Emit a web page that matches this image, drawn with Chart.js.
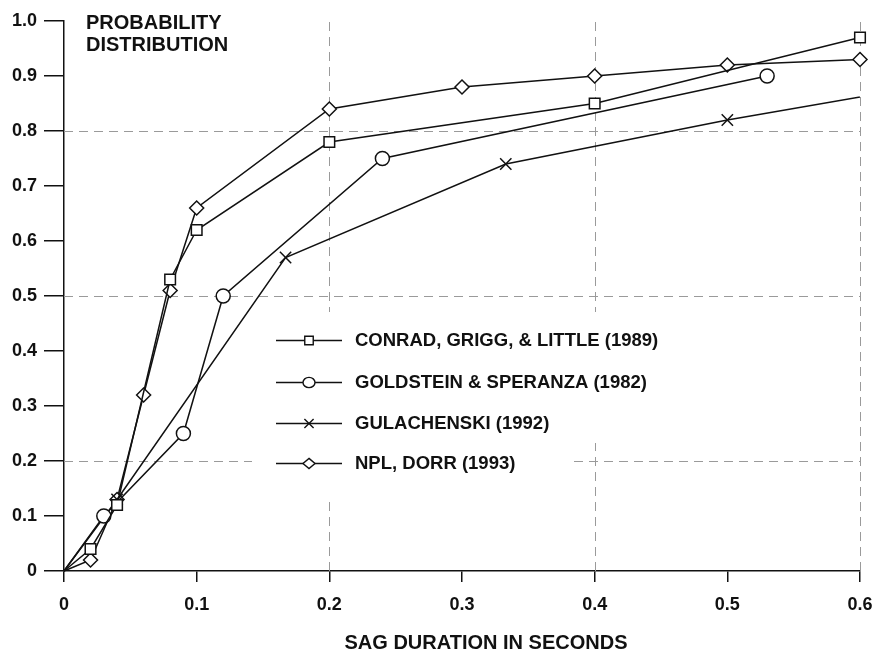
<!DOCTYPE html>
<html>
<head>
<meta charset="utf-8">
<title>Probability distribution of sag duration</title>
<script src="https://cdn.jsdelivr.net/npm/chart.js@4/dist/chart.umd.min.js"></script>
<style>
  html, body { margin: 0; padding: 0; background: #fff; }
  canvas { display: block; }
</style>
</head>
<body>
<canvas id="sag" width="874" height="656"></canvas>
<script>
// Cumulative probability of voltage sag duration, four survey sources
const seriesNames = [
  'CONRAD, GRIGG, & LITTLE (1989)',
  'GOLDSTEIN & SPERANZA (1982)',
  'GULACHENSKI (1992)',
  'NPL, DORR (1993)'
];

const conradX = [0, 0.02, 0.04, 0.08, 0.10, 0.20, 0.40, 0.60];
const conradY = [0, 0.04, 0.12, 0.53, 0.62, 0.78, 0.85, 0.97];

const goldsteinX = [0, 0.03, 0.09, 0.12, 0.24, 0.53];
const goldsteinY = [0, 0.10, 0.25, 0.50, 0.75, 0.90];

const gulachenskiX = [0, 0.04, 0.167, 0.333, 0.50, 0.667];
const gulachenskiY = [0, 0.13, 0.57, 0.74, 0.82, 0.89];

const nplX = [0, 0.02, 0.04, 0.06, 0.08, 0.10, 0.20, 0.30, 0.40, 0.50, 0.60];
const nplY = [0, 0.02, 0.13, 0.32, 0.51, 0.66, 0.84, 0.88, 0.90, 0.92, 0.93];

const xTickValues = [0, 0.1, 0.2, 0.3, 0.4, 0.5, 0.6];
const yTickValues = [0, 0.1, 0.2, 0.3, 0.4, 0.5, 0.6, 0.7, 0.8, 0.9, 1.0];
const xGuideValues = [0.2, 0.4, 0.6];
const yGuideValues = [0.2, 0.5, 0.8];

const xTitle = 'SAG DURATION IN SECONDS';
const yTitleLines = ['PROBABILITY', 'DISTRIBUTION'];

const INK = '#111';
const FAMILY = '"Liberation Sans", Arial, sans-serif';

function toPoints(xs, ys) {
  return xs.map((x, i) => ({ x: x, y: ys[i] }));
}

function fmt(v) {
  return Math.abs(v) < 1e-9 ? '0' : v.toFixed(1);
}

const markerStyles = ['rect', 'circle', 'crossRot', 'rectRot'];
const markerRadius = [7.5, 7, 8, 7];

function makeSet(i, xs, ys, extra) {
  return Object.assign({
    label: seriesNames[i],
    data: toPoints(xs, ys),
    borderColor: INK,
    borderWidth: 1.5,
    pointStyle: markerStyles[i],
    pointRadius: ctx => (ctx.dataIndex === 0 ? 0 : markerRadius[i]),
    pointBorderColor: INK,
    pointBackgroundColor: '#fff',
    pointBorderWidth: 1.5,
    pointHoverRadius: markerRadius[i],
    tension: 0,
    clip: 12
  }, extra || {});
}

const datasets = [
  makeSet(0, conradX, conradY),
  makeSet(1, goldsteinX, goldsteinY),
  makeSet(2, gulachenskiX, gulachenskiY, {
    // the last segment runs past the right edge of the axes
    pointRadius: ctx => (ctx.dataIndex === 0 || ctx.dataIndex === gulachenskiX.length - 1 ? 0 : markerRadius[2]),
    clip: { left: 12, top: 12, right: 0, bottom: 12 }
  }),
  makeSet(3, nplX, nplY)
];

function drawMarker(ctx, style, x, y, r) {
  ctx.save();
  ctx.strokeStyle = INK;
  ctx.fillStyle = '#fff';
  ctx.lineWidth = 1.4;
  ctx.beginPath();
  if (style === 'rect') {
    const s = r * Math.SQRT1_2;
    ctx.rect(x - s, y - s, 2 * s, 2 * s);
    ctx.fill(); ctx.stroke();
  } else if (style === 'circle') {
    ctx.ellipse(x, y, r, r * 0.85, 0, 0, Math.PI * 2);
    ctx.fill(); ctx.stroke();
  } else if (style === 'rectRot') {
    ctx.moveTo(x, y - r * 0.85);
    ctx.lineTo(x + r, y);
    ctx.lineTo(x, y + r * 0.85);
    ctx.lineTo(x - r, y);
    ctx.closePath();
    ctx.fill(); ctx.stroke();
  } else {
    const s = r * Math.SQRT1_2;
    ctx.moveTo(x - s, y - s); ctx.lineTo(x + s, y + s);
    ctx.moveTo(x - s, y + s); ctx.lineTo(x + s, y - s);
    ctx.stroke();
  }
  ctx.restore();
}

// Dashed guide lines, the key (on a white patch), the corner caption and the x title
const decorations = {
  id: 'decorations',
  beforeDatasetsDraw(chart) {
    const { ctx, chartArea: a, scales } = chart;
    ctx.save();
    ctx.strokeStyle = '#9a9a9a';
    ctx.lineWidth = 1;
    ctx.setLineDash([9, 6]);
    yGuideValues.forEach(v => {
      const y = Math.round(scales.y.getPixelForValue(v)) + 0.5;
      ctx.beginPath(); ctx.moveTo(a.left, y); ctx.lineTo(a.right, y); ctx.stroke();
    });
    xGuideValues.forEach(v => {
      const x = Math.round(scales.x.getPixelForValue(v)) + 0.5;
      ctx.beginPath(); ctx.moveTo(x, a.bottom); ctx.lineTo(x, a.top); ctx.stroke();
    });
    ctx.setLineDash([]);

    // key rows
    ctx.font = 'bold 18.5px ' + FAMILY;
    const rowY = [340, 382, 423, 463];
    const bands = [312, 361, 402, 443, 498];
    const textX = 355;
    ctx.fillStyle = '#fff';
    seriesNames.forEach((name, i) => {
      const w = ctx.measureText(name).width;
      ctx.fillRect(252, bands[i], textX + w + 58 - 252, bands[i + 1] - bands[i]);
    });
    ctx.textBaseline = 'middle';
    ctx.textAlign = 'left';
    seriesNames.forEach((name, i) => {
      const y = rowY[i];
      ctx.strokeStyle = INK;
      ctx.lineWidth = 1.5;
      ctx.beginPath(); ctx.moveTo(276, y + 0.5); ctx.lineTo(342, y + 0.5); ctx.stroke();
      drawMarker(ctx, markerStyles[i], 309, y + 0.5, i === 2 ? 6.5 : 6);
      ctx.fillStyle = INK;
      ctx.fillText(name, textX, y + 1);
    });

    // caption in the top-left corner
    ctx.font = 'bold 20px ' + FAMILY;
    ctx.textBaseline = 'alphabetic';
    ctx.fillText(yTitleLines[0], 86, 29);
    ctx.fillText(yTitleLines[1], 86, 51);

    // horizontal axis title
    ctx.textAlign = 'center';
    ctx.fillText(xTitle, 486, 649);
    ctx.restore();
  }
};

new Chart(document.getElementById('sag'), {
  type: 'line',
  data: { datasets: datasets },
  plugins: [decorations],
  options: {
    responsive: false,
    animation: false,
    events: [],
    layout: { padding: { top: 21, right: 14, left: 0, bottom: 0 } },
    plugins: {
      legend: { display: false },
      tooltip: { enabled: false },
      title: { display: false }
    },
    scales: {
      x: {
        type: 'linear',
        min: 0,
        max: 0.6,
        afterFit(scale) {
          scale.height = 85;
          // end labels may overhang; the outer layout padding already leaves room
          scale.paddingLeft = 0;
          scale.paddingRight = 0;
        },
        afterBuildTicks(scale) { scale.ticks = xTickValues.map(v => ({ value: v })); },
        ticks: {
          callback: v => fmt(v),
          color: INK,
          font: { family: FAMILY, size: 18, weight: 'bold' },
          padding: 12,
          maxRotation: 0,
          autoSkip: false
        },
        grid: { drawOnChartArea: false, color: INK, tickColor: INK, tickLength: 11, lineWidth: 1.5 },
        border: { display: true, color: INK, width: 1.5 },
        title: { display: false, text: xTitle }
      },
      y: {
        type: 'linear',
        min: 0,
        max: 1.0,
        afterFit(scale) {
          scale.width = 64;
          scale.paddingTop = 0;
          scale.paddingBottom = 0;
        },
        afterBuildTicks(scale) { scale.ticks = yTickValues.map(v => ({ value: v })); },
        ticks: {
          callback: v => fmt(v),
          color: INK,
          font: { family: FAMILY, size: 18, weight: 'bold' },
          padding: 7,
          autoSkip: false
        },
        grid: { drawOnChartArea: false, color: INK, tickColor: INK, tickLength: 20, lineWidth: 1.5 },
        border: { display: true, color: INK, width: 1.5 }
      }
    }
  }
});
</script>
</body>
</html>
